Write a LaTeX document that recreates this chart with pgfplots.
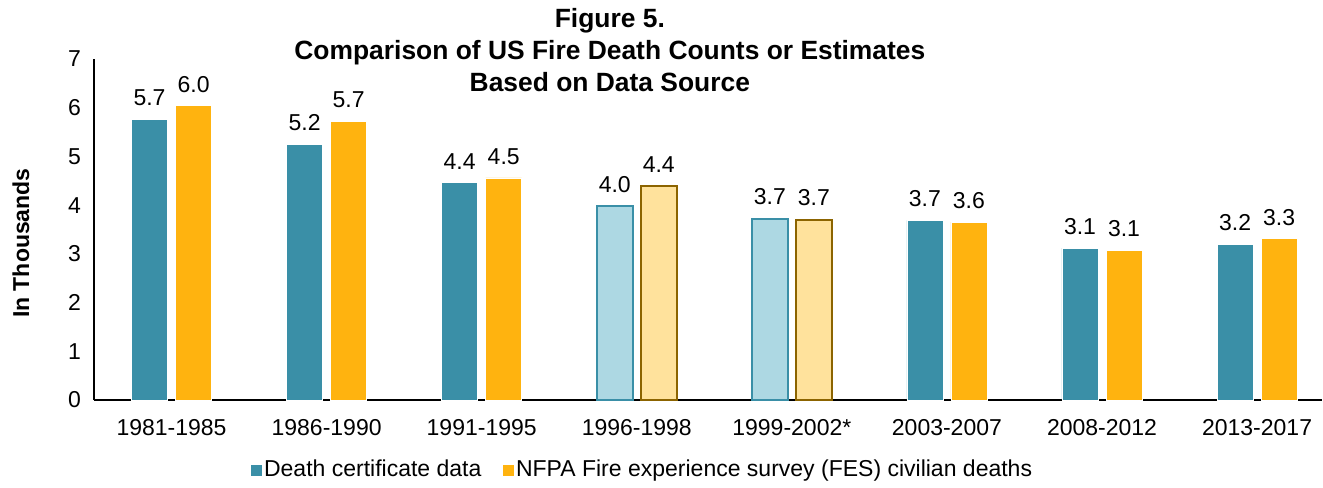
\documentclass[border=0pt]{standalone}
\usepackage{pgfplots}
\pgfplotsset{compat=1.18}
\usepackage{fontspec}
\setmainfont{Liberation Sans}

\definecolor{teal}{HTML}{3A8FA7}
\definecolor{gold}{HTML}{FFB30F}
\definecolor{lteal}{HTML}{ADD8E3}
\definecolor{lgold}{HTML}{FFE29C}
\definecolor{dgold}{HTML}{8C6400}

\begin{document}
\begin{tikzpicture}
\begin{axis}[
    scale only axis,
    width=614pt, height=170.5pt,
    xmin=-0.5, xmax=7.42,
    ymin=0, ymax=7,
    ytick={0,1,...,7},
    xtick={0,...,7},
    xticklabels={1981-1985,1986-1990,1991-1995,1996-1998,1999-2002*,2003-2007,2008-2012,2013-2017},
    axis x line=bottom, axis y line=left,
    axis line style={-, black, line width=0.8pt},
    major tick length=0pt,
    tick label style={font=\fontsize{11.5}{13}\selectfont},
    /pgf/number format/assume math mode=true,
    xticklabel style={yshift=-6pt},
    yticklabel style={xshift=-3pt},
    ylabel={In Thousands},
    every axis y label/.style={at={(rel axis cs:0,0.46)}, rotate=90, anchor=center, yshift=36.5pt,
        font=\fontsize{11.5}{13}\selectfont\bfseries},
    title={Figure 5.\\Comparison of US Fire Death Counts or Estimates\\Based on Data Source},
    title style={at={(rel axis cs:0.42,1)}, anchor=north, yshift=23pt, align=center,
        font=\fontsize{13.2}{16}\selectfont\bfseries},
    point meta=explicit symbolic,
    nodes near coords={\pgfplotspointmeta},
    every node near coord/.append style={font=\fontsize{11.5}{13}\selectfont, anchor=south, inner sep=0pt, yshift=6.5pt, black},
    legend style={at={(rel axis cs:0.446,0)}, anchor=center, yshift=-35pt, draw=none,
        font=\fontsize{11.5}{13}\selectfont, legend columns=2, column sep=0pt,
        nodes={inner xsep=0.5pt},
        /tikz/every even column/.append style={column sep=10pt}},
    legend cell align=left,
    legend image code/.code={\fill[#1] (0pt,-3pt) rectangle (6pt,3pt);},
    clip=false,
]
% death certificate data
\addplot[ybar, bar width=0.232, bar shift=-0.142, fill=teal, draw=white, line width=0.3pt,
    every node near coord/.append style={xshift=-11pt}]
    coordinates {(0,5.76) [5.7] (1,5.25) [5.2] (2,4.46) [4.4] (5,3.69) [3.7] (6,3.12) [3.1] (7,3.20) [3.2]};
\addlegendentry{Death certificate data}
% NFPA FES
\addplot[ybar, bar width=0.232, bar shift=0.142, fill=gold, draw=white, line width=0.3pt,
    every node near coord/.append style={xshift=11pt}]
    coordinates {(0,6.04) [6.0] (1,5.72) [5.7] (2,4.56) [4.5] (5,3.65) [3.6] (6,3.07) [3.1] (7,3.31) [3.3]};
\addlegendentry{NFPA Fire experience survey (FES) civilian deaths}
% transitional periods
\addplot[ybar, bar width=0.232, bar shift=-0.142, fill=lteal, draw=teal, line width=0.8pt, forget plot,
    every node near coord/.append style={xshift=-11pt}]
    coordinates {(3,3.98) [4.0] (4,3.72) [3.7]};
\addplot[ybar, bar width=0.232, bar shift=0.142, fill=lgold, draw=dgold, line width=0.8pt, forget plot,
    every node near coord/.append style={xshift=11pt}]
    coordinates {(3,4.39) [4.4] (4,3.70) [3.7]};
\path (rel axis cs:0,0) ++(-47pt,0pt);
\path (rel axis cs:0,1) ++(0pt,29.5pt);
\end{axis}
\end{tikzpicture}
\end{document}
